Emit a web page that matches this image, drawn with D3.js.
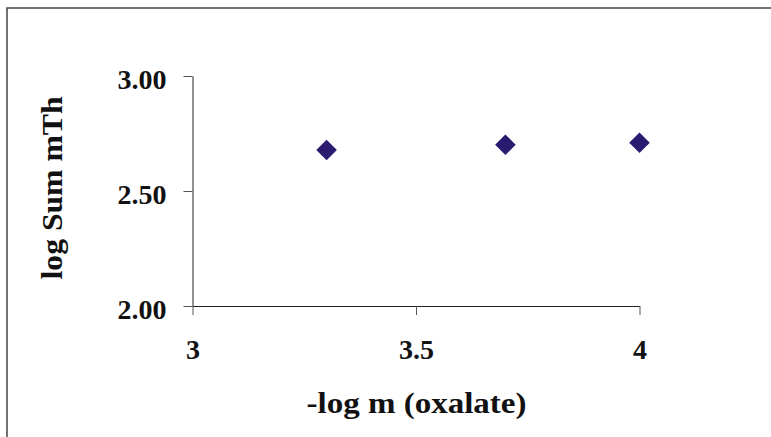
<!DOCTYPE html>
<html>
<head>
<meta charset="utf-8">
<script src="https://cdn.jsdelivr.net/npm/d3@7"></script>
<style>
  body { margin: 0; background: #fff; }
  text { font-family: "Liberation Serif", "Times New Roman", serif; font-weight: bold; fill: #111; }
</style>
</head>
<body>
<svg width="771" height="437"></svg>
<script>
// values
const oxalate = [3.3, 3.7, 4.0]          // -log m (oxalate)
const logSum = [2.678, 2.701, 2.710]     // log Sum mTh
const xTicks = [3, 3.5, 4]
const yTicks = [2.0, 2.5, 3.0]

const svg = d3.select("svg")

// outer frame (only top and left edges show in the picture)
svg.append("rect")
  .attr("x", 7).attr("y", 8)
  .attr("width", 800).attr("height", 500)
  .attr("fill", "none")
  .attr("stroke", "#444")
  .attr("stroke-width", 1.5)

const xs = d3.scaleLinear().domain([3, 4]).range([192.5, 639.5])
const ys = d3.scaleLinear().domain([2, 3]).range([306, 76])

const xAxis = d3.axisBottom(xs)
  .tickValues(xTicks)
  .tickFormat(d3.format("~g"))
  .tickSize(9)
  .tickSizeOuter(0)

const yAxis = d3.axisLeft(ys)
  .tickValues(yTicks)
  .tickFormat(d3.format(".2f"))
  .tickSize(9)
  .tickSizeOuter(0)

const gx = svg.append("g")
  .attr("transform", "translate(0," + ys(2) + ")")
  .call(xAxis)
gx.selectAll("text")
  .attr("y", 33)
  .attr("font-size", 28)
  .attr("fill", "#111")

const gy = svg.append("g")
  .attr("transform", "translate(" + xs(3) + ",0)")
  .call(yAxis)
gy.selectAll("text")
  .attr("x", -26)
  .attr("dy", "0.45em")
  .attr("font-size", 28)
  .attr("fill", "#111")

svg.selectAll(".domain").attr("stroke", "#222")
svg.selectAll(".tick line").attr("stroke", "#555")
svg.selectAll(".tick text").style("font-family", "Liberation Serif, Times New Roman, serif").style("font-weight", "bold")

// points
svg.append("g")
  .selectAll("path")
  .data(oxalate)
  .enter()
  .append("path")
  .attr("d", d3.symbol(d3.symbolSquare, 212))
  .attr("transform", (d, i) => "translate(" + xs(d) + "," + ys(logSum[i]) + ") rotate(45)")
  .attr("fill", "#2b1b70")

// axis titles
svg.append("text")
  .attr("x", 416.5)
  .attr("y", 413)
  .attr("text-anchor", "middle")
  .attr("font-size", 29)
  .attr("textLength", 220)
  .attr("lengthAdjust", "spacingAndGlyphs")
  .text("-log m (oxalate)")

svg.append("text")
  .attr("transform", "translate(62,188) rotate(-90)")
  .attr("text-anchor", "middle")
  .attr("font-size", 29)
  .attr("textLength", 183)
  .attr("lengthAdjust", "spacingAndGlyphs")
  .text("log Sum mTh")
</script>
</body>
</html>
